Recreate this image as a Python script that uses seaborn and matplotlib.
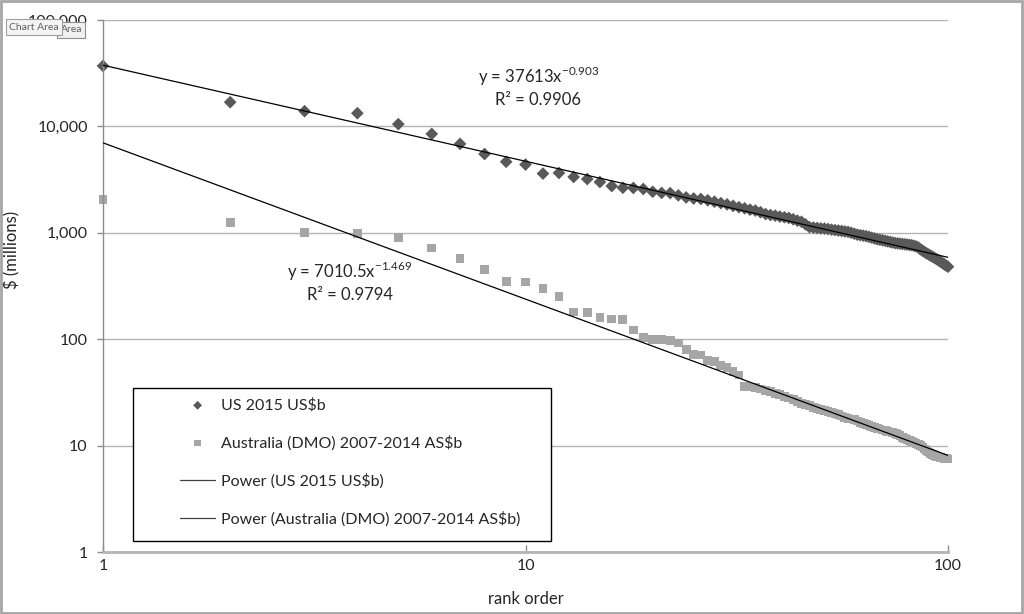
import matplotlib
matplotlib.use("Agg")
import matplotlib.pyplot as plt
import matplotlib.patches as mpatches
from matplotlib.ticker import FixedLocator, FixedFormatter, NullLocator
import seaborn as sns
import pandas as pd
import numpy as np

# ---- data ----
rank = list(range(1, 101))

us_2015 = [37000, 16900, 13900, 13300, 10500, 8500, 6850, 5500, 4650, 4380,
           3600, 3650, 3350, 3200, 3000, 2750, 2650, 2640, 2580, 2430,
           2370, 2360, 2250, 2150, 2100, 2080, 2020, 1960, 1900, 1850,
           1790, 1740, 1700, 1650, 1620, 1560, 1500, 1470, 1450, 1420,
           1400, 1380, 1340, 1300, 1270, 1200, 1130, 1120, 1110, 1100,
           1095, 1085, 1070, 1060, 1050, 1040, 1030, 1020, 1000, 980,
           960, 950, 940, 930, 915, 900, 885, 870, 860, 850,
           840, 830, 820, 810, 800, 795, 790, 785, 780, 775,
           770, 765, 755, 745, 730, 700, 680, 660, 640, 625,
           610, 595, 580, 565, 550, 535, 520, 505, 492, 480]

australia = [2050, 1240, 1015, 980, 910, 720, 570, 450, 350, 345,
             300, 250, 180, 177, 159, 155, 152, 122, 104, 100,
             99, 97, 92, 80, 72, 71, 63, 62, 57, 54,
             50, 46, 36, 35.5, 35, 34, 33, 32, 31, 30,
             29, 28, 27, 26, 25, 24.5, 24, 23, 22.5, 22,
             21.5, 21, 20.5, 20, 19.5, 19, 18.5, 18, 17.8, 17.5,
             17, 16.6, 16.2, 15.8, 15.5, 15.2, 14.9, 14.6, 14.3, 14,
             13.8, 13.6, 13.4, 13.2, 13, 12.7, 12.4, 12, 11.7, 11.4,
             11.2, 11, 10.8, 10.5, 10.2, 10, 9.7, 9.3, 9, 8.7,
             8.4, 8.2, 8.0, 7.9, 7.8, 7.7, 7.65, 7.6, 7.55, 7.5]

# power trend-line coefficients (as printed on the chart)
us_a, us_b, us_r2 = 37613, -0.903, 0.9906
au_a, au_b, au_r2 = 7010.5, -1.469, 0.9794

series_labels = ["US 2015 US$b", "Australia (DMO) 2007-2014 AS$b",
                 "Power (US 2015 US$b)", "Power (Australia (DMO) 2007-2014 AS$b)"]

y_ticks = [1, 10, 100, 1000, 10000, 100000]
y_tick_labels = ["1", "10", "100", "1,000", "10,000", "100,000"]
x_ticks = [1, 10, 100]
x_tick_labels = ["1", "10", "100"]

# ---- style ----
sns.set_theme(style="white")
plt.rcParams["font.family"] = ["Lato", "DejaVu Sans"]

fig = plt.figure(figsize=(10.24, 6.14), dpi=100)
ax = fig.add_axes([103 / 1024, 1 - 552 / 614, (948 - 103) / 1024, (552 - 20) / 614])

df_us = pd.DataFrame({"rank": rank, "value": us_2015})
df_au = pd.DataFrame({"rank": rank, "value": australia})
xfit = np.array(rank, dtype=float)
df_us_fit = pd.DataFrame({"rank": xfit, "value": us_a * xfit ** us_b})
df_au_fit = pd.DataFrame({"rank": xfit, "value": au_a * xfit ** au_b})

ax.set_xscale("log")
ax.set_yscale("log")

sns.lineplot(data=df_us_fit, x="rank", y="value", ax=ax, color="black", lw=0.9,
             label=series_labels[2], zorder=3)
sns.lineplot(data=df_au_fit, x="rank", y="value", ax=ax, color="black", lw=0.9,
             label=series_labels[3], zorder=3)
sns.scatterplot(data=df_us, x="rank", y="value", ax=ax, marker="D", s=42,
                color="#595959", edgecolor="none", linewidth=0, label=series_labels[0],
                zorder=2, clip_on=False)
sns.scatterplot(data=df_au, x="rank", y="value", ax=ax, marker="s", s=40,
                color="#A6A6A6", edgecolor="none", linewidth=0, label=series_labels[1],
                zorder=2, clip_on=False)

ax.set_xlim(1, 100)
ax.set_ylim(1, 100000)

ax.yaxis.set_major_locator(FixedLocator(y_ticks))
ax.yaxis.set_major_formatter(FixedFormatter(y_tick_labels))
ax.xaxis.set_major_locator(FixedLocator(x_ticks))
ax.xaxis.set_major_formatter(FixedFormatter(x_tick_labels))
ax.yaxis.set_minor_locator(NullLocator())
ax.xaxis.set_minor_locator(NullLocator())

ax.grid(axis="y", color="#B4B4B4", lw=1)
ax.grid(axis="x", visible=False)
ax.set_axisbelow(True)
for s in ["top", "right"]:
    ax.spines[s].set_visible(False)
ax.spines["left"].set_color("#8C8C8C")
ax.spines["bottom"].set_color("#B4B4B4")
ax.spines["bottom"].set_linewidth(2)
ax.spines["left"].set_linewidth(1)
ax.tick_params(axis="y", direction="out", length=4, width=1, color="#8C8C8C",
               labelsize=11.5, pad=7, left=True)
ax.tick_params(axis="x", direction="in", length=5, width=1, color="#8C8C8C",
               labelsize=11.5, pad=5, bottom=True)

ax.set_xlabel("rank order", fontsize=12)
ax.set_ylabel("$ (millions)", fontsize=12)
ax.yaxis.set_label_coords(-(103 - 20) / 845, (552 - 250) / 532)
ax.xaxis.set_label_coords(0.5, -0.074)

# equations
ax.text(0.515, 0.893, "y = %dx$^{\\mathregular{%.3f}}$" % (us_a, us_b), transform=ax.transAxes,
        ha="center", va="center", fontsize=12)
ax.text(0.515, 0.85, "R² = %.4f" % us_r2, transform=ax.transAxes,
        ha="center", va="center", fontsize=12)
ax.text(0.292, 0.527, "y = %.1fx$^{\\mathregular{%.3f}}$" % (au_a, au_b), transform=ax.transAxes,
        ha="center", va="center", fontsize=12)
ax.text(0.292, 0.483, "R² = %.4f" % au_r2, transform=ax.transAxes,
        ha="center", va="center", fontsize=12)

# legend
handles, labels = ax.get_legend_handles_labels()
order = [labels.index(l) for l in series_labels]
leg = ax.legend([handles[i] for i in order], [labels[i] for i in order],
                loc="upper left", bbox_to_anchor=((180 - 103) / 845, (552 - 398) / 532),
                frameon=False, fontsize=11.5, handlelength=2.2, handletextpad=0.35,
                labelspacing=1.42, borderaxespad=0, borderpad=0, markerscale=0.7)
leg.set_zorder(5)
for ln in leg.get_lines():
    ln.set_color("#404040")
box = mpatches.Rectangle(((133 - 103) / 845, (552 - 541) / 532), (551 - 133) / 845, (541 - 388) / 532,
                         transform=ax.transAxes, fill=True, facecolor="white",
                         edgecolor="black", lw=1, zorder=4)
ax.add_patch(box)

# chart border and tooltip artefact
fig.patches.append(mpatches.Rectangle((0.001, 0.002), 0.997, 0.996, transform=fig.transFigure,
                                      fill=False, edgecolor="#A6A6A6", lw=2))
fig.text(82 / 1024, 1 - 30 / 614, "Area", fontsize=7.5, color="#606060", ha="right", va="center",
         bbox=dict(boxstyle="square,pad=0.3", facecolor="#F0F0F0", edgecolor="#909090", lw=0.8))
fig.text(9 / 1024, 1 - 27 / 614, "Chart Area", fontsize=7.5, color="#606060", ha="left", va="center",
         bbox=dict(boxstyle="square,pad=0.3", facecolor="#F4F4F4", edgecolor="#A0A0A0", lw=0.8))

fig.savefig("out.png", dpi=100)
